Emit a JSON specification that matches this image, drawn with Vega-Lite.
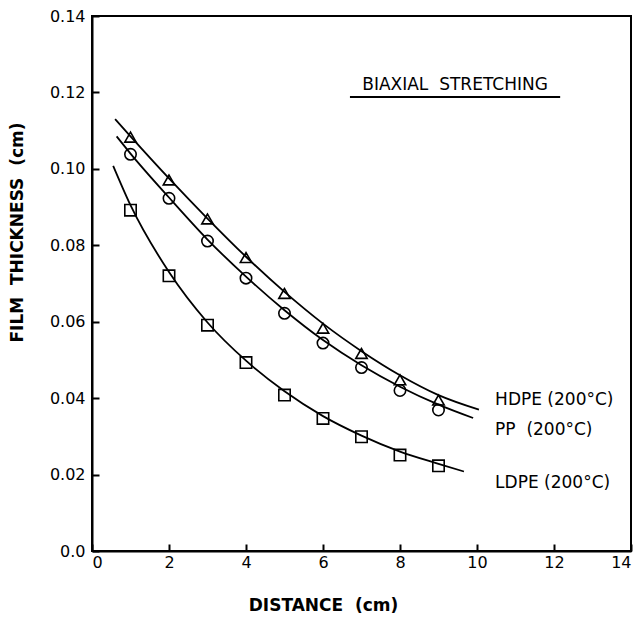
{
  "$schema": "https://vega.github.io/schema/vega-lite/v6.json",
  "width": 539,
  "height": 535,
  "autosize": {"type": "none"},
  "padding": {"left": 92, "top": 16, "right": 7, "bottom": 67},
  "background": "white",
  "config": {
    "font": "DejaVu Sans",
    "view": {"stroke": "black", "strokeWidth": 2},
    "axis": {
      "grid": false,
      "domainColor": "black",
      "domainWidth": 2,
      "tickColor": "black",
      "tickWidth": 2,
      "tickSize": -7,
      "labelColor": "black",
      "labelFontSize": 16,
      "labelFont": "DejaVu Sans",
      "titleColor": "black",
      "titleFont": "DejaVu Sans",
      "titleFontSize": 17,
      "titleFontWeight": "bold"
    }
  },
  "datasets": {
    "pts": [
      {"series": "HDPE", "d": 1, "t": 0.1083},
      {"series": "HDPE", "d": 2, "t": 0.0971},
      {"series": "HDPE", "d": 3, "t": 0.0869},
      {"series": "HDPE", "d": 4, "t": 0.0768},
      {"series": "HDPE", "d": 5, "t": 0.0674},
      {"series": "HDPE", "d": 6, "t": 0.0583},
      {"series": "HDPE", "d": 7, "t": 0.0517},
      {"series": "HDPE", "d": 8, "t": 0.0448},
      {"series": "HDPE", "d": 9, "t": 0.0395},
      {"series": "PP", "d": 1, "t": 0.1038},
      {"series": "PP", "d": 2, "t": 0.0923},
      {"series": "PP", "d": 3, "t": 0.0811},
      {"series": "PP", "d": 4, "t": 0.0714},
      {"series": "PP", "d": 5, "t": 0.0622},
      {"series": "PP", "d": 6, "t": 0.0544},
      {"series": "PP", "d": 7, "t": 0.048},
      {"series": "PP", "d": 8, "t": 0.042},
      {"series": "PP", "d": 9, "t": 0.0369},
      {"series": "LDPE", "d": 1, "t": 0.0892},
      {"series": "LDPE", "d": 2, "t": 0.072},
      {"series": "LDPE", "d": 3, "t": 0.0591},
      {"series": "LDPE", "d": 4, "t": 0.0493},
      {"series": "LDPE", "d": 5, "t": 0.0408},
      {"series": "LDPE", "d": 6, "t": 0.0347},
      {"series": "LDPE", "d": 7, "t": 0.0299},
      {"series": "LDPE", "d": 8, "t": 0.0251},
      {"series": "LDPE", "d": 9, "t": 0.0223}
    ],
    "curves": [
      {"series": "HDPE", "d": 0.6, "t": 0.113},
      {"series": "HDPE", "d": 1, "t": 0.1085},
      {"series": "HDPE", "d": 2, "t": 0.0975},
      {"series": "HDPE", "d": 3, "t": 0.087},
      {"series": "HDPE", "d": 4, "t": 0.077},
      {"series": "HDPE", "d": 5, "t": 0.0678},
      {"series": "HDPE", "d": 6, "t": 0.0595},
      {"series": "HDPE", "d": 7, "t": 0.0523},
      {"series": "HDPE", "d": 8, "t": 0.046},
      {"series": "HDPE", "d": 9, "t": 0.0408},
      {"series": "HDPE", "d": 10.05, "t": 0.037},
      {"series": "PP", "d": 0.64, "t": 0.1085},
      {"series": "PP", "d": 1, "t": 0.104},
      {"series": "PP", "d": 2, "t": 0.0925},
      {"series": "PP", "d": 3, "t": 0.0815},
      {"series": "PP", "d": 4, "t": 0.0718},
      {"series": "PP", "d": 5, "t": 0.063},
      {"series": "PP", "d": 6, "t": 0.0552},
      {"series": "PP", "d": 7, "t": 0.0486},
      {"series": "PP", "d": 8, "t": 0.043},
      {"series": "PP", "d": 9, "t": 0.0383},
      {"series": "PP", "d": 9.9, "t": 0.0348},
      {"series": "LDPE", "d": 0.55, "t": 0.1008},
      {"series": "LDPE", "d": 1, "t": 0.0905},
      {"series": "LDPE", "d": 2, "t": 0.073},
      {"series": "LDPE", "d": 3, "t": 0.0598},
      {"series": "LDPE", "d": 4, "t": 0.0498},
      {"series": "LDPE", "d": 5, "t": 0.0418},
      {"series": "LDPE", "d": 6, "t": 0.0353},
      {"series": "LDPE", "d": 7, "t": 0.0302},
      {"series": "LDPE", "d": 8, "t": 0.026},
      {"series": "LDPE", "d": 9, "t": 0.0228},
      {"series": "LDPE", "d": 9.66, "t": 0.0208}
    ],
    "labels": [
      {"label": "HDPE (200°C)", "d": 10.47, "t": 0.0395},
      {"label": "PP\u00a0\u00a0(200°C)", "d": 10.47, "t": 0.0317},
      {"label": "LDPE (200°C)", "d": 10.47, "t": 0.0179}
    ],
    "title": [
      {"label": "BIAXIAL\u00a0\u00a0STRETCHING", "d": 9.43, "t": 0.122, "d1": 6.7, "d2": 12.16, "tu": 0.1188}
    ]
  },
  "layer": [
    {
      "data": {"name": "curves"},
      "mark": {"type": "line", "color": "black", "strokeWidth": 1.8, "interpolate": "monotone"},
      "encoding": {
        "x": {"field": "d", "type": "quantitative", "scale": {"domain": [0, 14], "nice": false},
          "axis": {"values": [0, 2, 4, 6, 8, 10, 12, 14], "title": "DISTANCE\u00a0\u00a0(cm)", "labelPadding": 10, "titleX": 231, "titleY": 54, "titleBaseline": "middle", "titleAlign": "center"}},
        "y": {"field": "t", "type": "quantitative", "scale": {"domain": [0, 0.14], "nice": false, "zero": true},
          "axis": {"values": [0, 0.02, 0.04, 0.06, 0.08, 0.1, 0.12, 0.14], "labelExpr": "datum.value == 0 ? '0.0' : format(datum.value, '.2f')", "labelPadding": 14, "title": "FILM\u00a0\u00a0THICKNESS\u00a0\u00a0(cm)", "titleX": -75, "titleY": 216, "titleBaseline": "middle", "titleAlign": "center"}},
        "detail": {"field": "series"}
      }
    },
    {
      "data": {"name": "pts"},
      "mark": {"type": "point", "filled": false, "color": "black", "strokeWidth": 1.6, "opacity": 1},
      "encoding": {
        "x": {"field": "d", "type": "quantitative"},
        "y": {"field": "t", "type": "quantitative"},
        "shape": {"field": "series", "type": "nominal", "scale": {"domain": ["HDPE", "PP", "LDPE"], "range": ["triangle-up", "circle", "square"]}, "legend": null},
        "size": {"value": 130}
      }
    },
    {
      "data": {"name": "labels"},
      "mark": {"type": "text", "align": "left", "baseline": "middle", "fontSize": 17, "color": "black", "font": "DejaVu Sans"},
      "encoding": {
        "x": {"field": "d", "type": "quantitative"},
        "y": {"field": "t", "type": "quantitative"},
        "text": {"field": "label"}
      }
    },
    {
      "data": {"name": "title"},
      "mark": {"type": "text", "align": "center", "baseline": "middle", "fontSize": 17, "color": "black", "font": "DejaVu Sans"},
      "encoding": {
        "x": {"field": "d", "type": "quantitative"},
        "y": {"field": "t", "type": "quantitative"},
        "text": {"field": "label"}
      }
    },
    {
      "data": {"name": "title"},
      "mark": {"type": "rule", "color": "black", "strokeWidth": 2},
      "encoding": {
        "x": {"field": "d1", "type": "quantitative"},
        "x2": {"field": "d2"},
        "y": {"field": "tu", "type": "quantitative"}
      }
    }
  ]
}
